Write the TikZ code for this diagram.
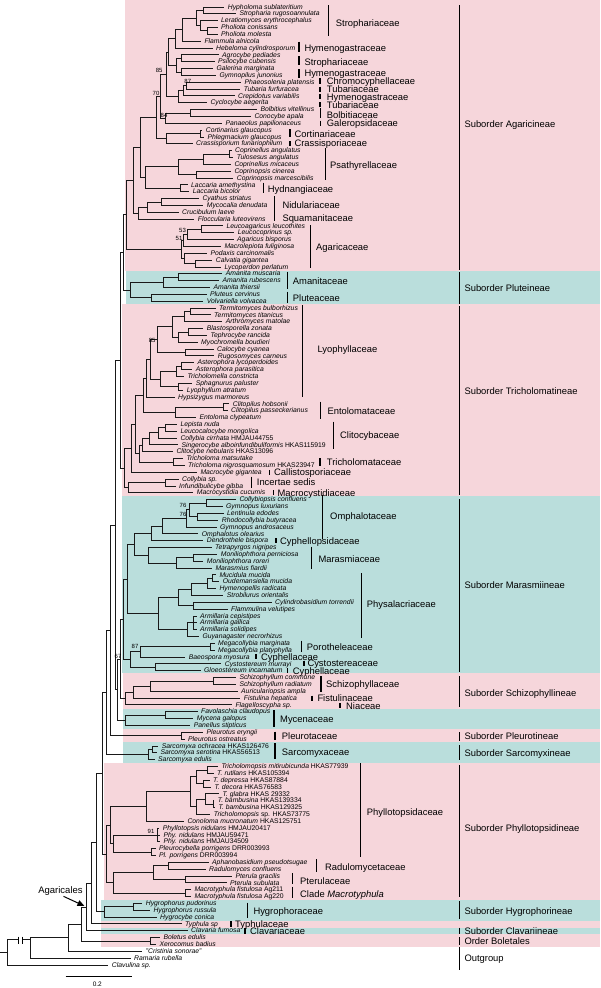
\documentclass[tikz,border=0pt]{standalone}
\usepackage{fontspec}
\setmainfont{Liberation Sans}
\usetikzlibrary{arrows.meta}
\definecolor{bgpink}{HTML}{F6D6DB}
\definecolor{bgcyan}{HTML}{BADEDC}
\newcommand\rw[1]{{7+(#1-1)*6.843}}
\newcommand\lf[3]{\node[leaf] (l#1) at ({#2-3.5},\rw{#1}) {#3};}
\newcommand\cn[3]{\coordinate (#1) at (#2,\rw{#3});}
\newcommand\br[2]{\draw[tree] (#1) |- (#2);}
\newcommand\vc[1]{\textup{#1}}
\newcommand\famb[7]{\draw[brk] (#2,#3) -- (#2,#4); \node[famlab] (#1) at (#5,#6) {#7};}
\newcommand\ftk[5]{\draw[brk] (#2,{#4-2.6}) -- (#2,{#4+2.6}); \node[famlab] (#1) at (#3,#4) {#5};}
\newcommand\subo[5]{\draw[subbrk] (459.3,#2) -- (459.3,#3); \node[famlab] (#1) at (464.3,#4) {#5};}
\tikzset{
 tree/.style={line width=1pt, draw=black!90},
 leaf/.style={anchor=west, inner xsep=3.5pt, inner ysep=0pt, text height=4.2pt, text depth=0pt, font=\fontsize{6.8}{7}\selectfont\itshape},
 famlab/.style={anchor=west, inner sep=0pt, text height=6.7pt, text depth=0pt, font=\fontsize{9.4}{10}\selectfont},
 brk/.style={line width=1.2pt},
 subbrk/.style={line width=1pt},
 supp/.style={font=\fontsize{6}{6}\selectfont, inner sep=0pt},
}
\begin{document}
\begin{tikzpicture}[x=1pt,y=-1pt]
\useasboundingbox (0,0) rectangle (600,988);
% background bands
\fill[bgpink] (125,0) rectangle (600,270.7);
\fill[bgcyan] (126,270.7) rectangle (600,304.3);
\fill[bgpink] (121.7,304.3) rectangle (600,495.5);
\fill[bgcyan] (121.7,495.5) rectangle (600,673);
\fill[bgpink] (122.7,673) rectangle (600,709.3);
\fill[bgcyan] (122.7,709.3) rectangle (600,729.2);
\fill[bgpink] (122.7,729.2) rectangle (600,742.3);
\fill[bgcyan] (122.7,742.3) rectangle (600,763);
\fill[bgpink] (104,763) rectangle (600,900);
\fill[bgcyan] (100.7,900) rectangle (600,921);
\fill[bgpink] (100.7,921) rectangle (600,927.7);
\fill[bgcyan] (100.7,927.7) rectangle (600,934.3);
\fill[bgpink] (100.7,934.3) rectangle (600,947.3);
% leaves
\lf{1}{227.7}{Hypholoma sublateritium}
\lf{2}{239.3}{Stropharia rugosoannulata}
\lf{3}{221}{Leratiomyces erythrocephalus}
\lf{4}{221}{Pholiota conissans}
\lf{5}{221}{Pholiota molesta}
\lf{6}{204.3}{Flammula alnicola}
\lf{7}{216}{Hebeloma cylindrosporum}
\lf{8}{222}{Agrocybe pediades}
\lf{9}{218}{Psilocybe cubensis}
\lf{10}{216.3}{Galerina marginata}
\lf{11}{219.3}{Gymnopilus junonius}
\lf{12}{244.3}{Phaeosolenia platensis}
\lf{13}{243.7}{Tubaria furfuracea}
\lf{14}{238}{Crepidotus variabilis}
\lf{15}{210.3}{Cyclocybe aegerita}
\lf{16}{260.3}{Bolbitius vitellinus}
\lf{17}{254.3}{Conocybe apala}
\lf{18}{225.3}{Panaeolus papilionaceus}
\lf{19}{205.7}{Cortinarius glaucopus}
\lf{20}{207.3}{Phlegmacium glaucopus}
\lf{21}{196}{Crassisporium funariophilum}
\lf{22}{235}{Coprinellus angulatus}
\lf{23}{236.7}{Tulosesus angulatus}
\lf{24}{234.3}{Coprinellus micaceus}
\lf{25}{234.3}{Coprinopsis cinerea}
\lf{26}{236.7}{Coprinopsis marcescibilis}
\lf{27}{191}{Laccaria amethystina}
\lf{28}{192.7}{Laccaria bicolor}
\lf{29}{202.3}{Cyathus striatus}
\lf{30}{206.7}{Mycocalia denudata}
\lf{31}{182}{Crucibulum laeve}
\lf{32}{197.7}{Floccularia luteovirens}
\lf{33}{226.3}{Leucoagaricus leucothites}
\lf{34}{237.7}{Leucocoprinus sp.}
\lf{35}{237}{Agaricus bisporus}
\lf{36}{224.3}{Macrolepiota fuliginosa}
\lf{37}{210.3}{Podaxis carcinomalis}
\lf{38}{215.7}{Calvatia gigantea}
\lf{39}{224.3}{Lycoperdon perlatum}
\lf{40}{225.7}{Amanita muscaria}
\lf{41}{222.3}{Amanita rubescens}
\lf{42}{213.3}{Amanita thiersii}
\lf{43}{210}{Pluteus cervinus}
\lf{44}{206.7}{Volvariella volvacea}
\lf{45}{219}{Termitomyces bulborhizus}
\lf{46}{214}{Termitomyces titanicus}
\lf{47}{225.7}{Arthromyces matolae}
\lf{48}{206.7}{Blastosporella zonata}
\lf{49}{210.3}{Tephrocybe rancida}
\lf{50}{201}{Myochromella boudieri}
\lf{51}{217}{Calocybe cyanea}
\lf{52}{217.7}{Rugosomyces carneus}
\lf{53}{197.3}{Asterophora lycoperdoides}
\lf{54}{195.7}{Asterophora parasitica}
\lf{55}{187.3}{Tricholomella constricta}
\lf{56}{195.7}{Sphagnurus paluster}
\lf{57}{186.7}{Lyophyllum atratum}
\lf{58}{178}{Hypsizygus marmoreus}
\lf{59}{232.7}{Clitopilus hobsonii}
\lf{60}{231}{Clitopilus passeckerianus}
\lf{61}{199.3}{Entoloma clypeatum}
\lf{62}{180.3}{Lepista nuda}
\lf{63}{180.3}{Leucocalocybe mongolica}
\lf{64}{180.3}{Collybia cirrhata \vc{HMJAU44755}}
\lf{65}{181.3}{Singerocybe alboinfundibuliformis \vc{HKAS115919}}
\lf{66}{176.3}{Clitocybe nebularis \vc{HKAS13096}}
\lf{67}{186.3}{Tricholoma matsutake}
\lf{68}{188}{Tricholoma nigrosquamosum \vc{HKAS23947}}
\lf{69}{200.3}{Macrocybe gigantea}
\lf{70}{182}{Collybia sp.}
\lf{71}{179}{Infundibulicybe gibba}
\lf{72}{196.7}{Macrocystidia cucumis}
\lf{73}{239.3}{Collybiopsis confluens}
\lf{74}{226}{Gymnopus luxurians}
\lf{75}{227}{Lentinula edodes}
\lf{76}{221.7}{Rhodocollybia butyracea}
\lf{77}{220}{Gymnopus androsaceus}
\lf{78}{201.7}{Omphalotus olearius}
\lf{79}{206.7}{Dendrothele bispora}
\lf{80}{215}{Tetrapyrgos nigripes}
\lf{81}{220.7}{Moniliophthora perniciosa}
\lf{82}{206.7}{Moniliophthora roreri}
\lf{83}{215.3}{Marasmius fiardii}
\lf{84}{219.3}{Mucidula mucida}
\lf{85}{222.7}{Oudemansiella mucida}
\lf{86}{219.3}{Hymenopellis radicata}
\lf{87}{226.7}{Strobilurus orientalis}
\lf{88}{275}{Cylindrobasidium torrendii}
\lf{89}{231}{Flammulina velutipes}
\lf{90}{200}{Armillaria cepistipes}
\lf{91}{200}{Armillaria gallica}
\lf{92}{200}{Armillaria solidipes}
\lf{93}{202.3}{Guyanagaster necrorhizus}
\lf{94}{218}{Megacollybia marginata}
\lf{95}{218}{Megacollybia platyphylla}
\lf{96}{188.7}{Baeospora myosura}
\lf{97}{224.7}{Cystostereum murrayi}
\lf{98}{204}{Gloeostereum incarnatum}
\lf{99}{239.3}{Schizophyllum commune}
\lf{100}{239.3}{Schizophyllum radiatum}
\lf{101}{241}{Auriculariopsis ampla}
\lf{102}{243.7}{Fistulina hepatica}
\lf{103}{235.3}{Flagelloscypha sp.}
\lf{104}{201}{Favolaschia claudopus}
\lf{105}{196.7}{Mycena galopus}
\lf{106}{193.7}{Panellus stipticus}
\lf{107}{206.3}{Pleurotus eryngii}
\lf{108}{188}{Pleurotus ostreatus}
\lf{109}{161.7}{Sarcomyxa ochracea \vc{HKAS126476}}
\lf{110}{160.3}{Sarcomyxa serotina \vc{HKAS56513}}
\lf{111}{158}{Sarcomyxa edulis}
\lf{112}{221.3}{Tricholomopsis mitirubicunda \vc{HKAS77939}}
\lf{113}{217}{T. rutilans \vc{HKAS105394}}
\lf{114}{213}{T. depressa \vc{HKAS87884}}
\lf{115}{214.3}{T. decora \vc{HKAS76583}}
\lf{116}{222.3}{T. glabra \vc{HKAS 29332}}
\lf{117}{217.7}{T. bambusina \vc{HKAS139334}}
\lf{118}{218.3}{T. bambusina \vc{HKAS129325}}
\lf{119}{213.7}{Tricholomopsis \vc{sp. HKAS73775}}
\lf{120}{187.3}{Conoloma mucronatum \vc{HKAS125751}}
\lf{121}{162.7}{Phyllotopsis nidulans \vc{HMJAU20417}}
\lf{122}{163.3}{Phy. nidulans \vc{HMJAU59471}}
\lf{123}{163.3}{Phy. nidulans \vc{HMJAU34509}}
\lf{124}{159}{Pleurocybella porrigens \vc{DRR003993}}
\lf{125}{159}{Pl. porrigens \vc{DRR003994}}
\lf{126}{212}{Aphanobasidium pseudotsugae}
\lf{127}{209}{Radulomyces confluens}
\lf{128}{235.3}{Pterula gracilis}
\lf{129}{230}{Pterula subulata}
\lf{130}{194.3}{Macrotyphula fistulosa \vc{Ag211}}
\lf{131}{194.3}{Macrotyphula fistulosa \vc{Ag220}}
\lf{132}{145.7}{Hygrophorus pudorinus}
\lf{133}{153.3}{Hygrophorus russula}
\lf{134}{160}{Hygrocybe conica}
\lf{135}{185}{Typhula sp}
\lf{136}{191}{Clavaria fumosa}
\lf{137}{163.3}{Boletus edulis}
\lf{138}{159.3}{Xerocomus badius}
\lf{139}{145.7}{"Cristinia sonorae"}
\lf{140}{134}{Ramaria rubella}
\lf{141}{111.7}{Clavulina sp.}
% internal nodes: Agaricineae
\cn{a12}{203.3}{1.5}
\cn{a45}{207}{4.5}
\cn{a345}{200}{3.75}
\cn{a1t5}{196.7}{2.625}
\cn{a1t6}{182}{4.3125}
\cn{a1t7}{175}{5.656}
\cn{a89}{181.7}{8.5}
\cn{a1011}{181.7}{10.5}
\cn{a8t11}{176}{9.5}
\cn{a1t11}{168}{7.578}
\cn{a1213}{186}{12.5}
\cn{a12t14}{183}{13.25}
\cn{a12t15}{178}{14.125}
\cn{a1t15}{166}{10.852}
\cn{a1617}{190}{16.5}
\cn{a16t18}{165}{17.25}
\cn{a1t18}{160}{14.05}
\cn{a1920}{200}{19.5}
\cn{a19t21}{166.7}{20.25}
\cn{a1t21}{156}{17.15}
\cn{a2223}{229}{22.5}
\cn{a22t24}{203}{23.25}
\cn{a2526}{196.7}{25.5}
\cn{a22t26}{178}{24.375}
\cn{a2728}{180}{27.5}
\cn{a22t28}{145}{25.94}
\cn{a1t28}{140}{21.54}
\cn{a2930}{161.7}{29.5}
\cn{a29t31}{147.7}{30.25}
\cn{a29t32}{138.3}{31.125}
\cn{a1t32}{133}{26.33}
\cn{a3334}{201.7}{33.5}
\cn{a33t35}{187.3}{34.25}
\cn{a33t36}{183}{35.125}
\cn{a3839}{195}{38.5}
\cn{a37t39}{184}{37.75}
\cn{a33t39}{181}{36.44}
\cn{AG}{126}{31.38}
\cn{p4041}{178.3}{40.5}
\cn{p40t42}{163.3}{41.25}
\cn{p4344}{151}{43.5}
\cn{PL}{130.7}{42.375}
\cn{AP}{123}{36.88}
% Tricholomatineae
\cn{t4546}{190.7}{45.5}
\cn{t45t47}{184}{46.25}
\cn{t4849}{188}{48.5}
\cn{t48t50}{178}{49.25}
\cn{t45t50}{172}{47.75}
\cn{t5152}{185}{51.5}
\cn{t45t52}{157}{49.625}
\cn{t5354}{181.7}{53.5}
\cn{t53t55}{176}{54.25}
\cn{t5657}{178}{56.5}
\cn{t53t57}{160}{55.375}
\cn{t45t57}{150}{52.5}
\cn{t45t58}{146.7}{55.25}
\cn{t5960}{223}{59.5}
\cn{t59t61}{175}{60.25}
\cn{t45t61}{143.3}{57.75}
\cn{t6263}{165}{62.5}
\cn{t62t64}{158}{63.25}
\cn{t62t65}{149.3}{64.125}
\cn{t62t66}{142.7}{65.06}
\cn{t6768}{173.3}{67.5}
\cn{t62t68}{139}{66.28}
\cn{t45t68}{135}{62.02}
\cn{t45t69}{131.7}{65.51}
\cn{t7071}{165}{70.5}
\cn{t70t72}{128.3}{71.25}
\cn{TR}{124}{68.38}
\cn{Q}{120}{52.63}
% Marasmiineae etc.
\cn{m7374}{206}{73.5}
\cn{m7576}{197}{75.5}
\cn{m73t76}{189}{74.5}
\cn{m73t77}{186}{75.75}
\cn{m73t78}{162}{76.875}
\cn{m73t79}{151}{77.94}
\cn{m8182}{193.3}{81.5}
\cn{m81t83}{176}{82.25}
\cn{m80t83}{148}{81.125}
\cn{m73t83}{134}{79.53}
\cn{m8485}{212}{84.5}
\cn{m84t86}{207}{85.25}
\cn{m84t87}{191.7}{86.125}
\cn{m8889}{193.3}{88.5}
\cn{m84t89}{178}{87.31}
\cn{m90t92}{193}{91}
\cn{m90t93}{187.3}{92}
\cn{PHYS}{158.3}{89.66}
\cn{MA1}{127.7}{84.6}
\cn{m9495}{210}{94.5}
\cn{m94t96}{140}{95.25}
\cn{m9798}{155}{97.5}
\cn{m94t98}{130}{96.375}
\cn{MA}{123.3}{90.49}
\cn{s99100}{213.3}{99.5}
\cn{s99t101}{150}{100.25}
\cn{s99t102}{133.3}{101.125}
\cn{SC}{125}{102.06}
\cn{MS}{120}{96.28}
\cn{y104105}{165}{104.5}
\cn{MY}{125}{105.25}
\cn{M}{117}{100.76}
\cn{R}{115}{76.7}
\cn{PLE}{181.7}{107.5}
\cn{T}{110}{92.1}
\cn{sa109110}{152}{109.5}
\cn{SA}{148}{110.25}
\cn{U}{106.7}{101.18}
% Phyllotopsidineae and base
\cn{h112113}{207.3}{112.5}
\cn{h114115}{203}{114.5}
\cn{h112t115}{196.7}{113.5}
\cn{h117118}{213}{117.5}
\cn{h116t118}{205}{116.75}
\cn{h116t119}{196}{117.875}
\cn{h112t119}{190}{115.69}
\cn{h112t120}{146.7}{117.84}
\cn{h121t123}{157}{122}
\cn{h124125}{151.7}{124.5}
\cn{h121t125}{113.3}{123.25}
\cn{h112t125}{110}{120.55}
\cn{h126127}{168.3}{126.5}
\cn{h128129}{185}{128.5}
\cn{h126t129}{153.3}{127.5}
\cn{h130131}{185}{130.5}
\cn{h126t131}{113.3}{129}
\cn{PHY}{106}{124.78}
\cn{K1}{102.7}{112.98}
\cn{g132133}{133.3}{132.5}
\cn{HY}{104}{133.25}
\cn{K2}{96.7}{123.1}
\cn{K3}{91.7}{129.05}
\cn{K4}{86.7}{132.53}
\cn{BO}{150.7}{137.5}
\cn{K5}{81}{135.01}
\cn{K6}{68.3}{137.0}
\cn{K7}{30}{137.34}
\cn{RT}{7.3}{139.17}
\cn{RT0}{0}{139.17}
% branches
\br{a12}{l1.west}\br{a12}{l2.west}
\br{a45}{l4.west}\br{a45}{l5.west}
\br{a345}{l3.west}\br{a345}{a45}
\br{a1t5}{a12}\br{a1t5}{a345}
\br{a1t6}{a1t5}\br{a1t6}{l6.west}
\br{a1t7}{a1t6}\br{a1t7}{l7.west}
\br{a89}{l8.west}\br{a89}{l9.west}
\br{a1011}{l10.west}\br{a1011}{l11.west}
\br{a8t11}{a89}\br{a8t11}{a1011}
\br{a1t11}{a1t7}\br{a1t11}{a8t11}
\br{a1213}{l12.west}\br{a1213}{l13.west}
\br{a12t14}{a1213}\br{a12t14}{l14.west}
\br{a12t15}{a12t14}\br{a12t15}{l15.west}
\br{a1t15}{a1t11}\br{a1t15}{a12t15}
\br{a1617}{l16.west}\br{a1617}{l17.west}
\br{a16t18}{a1617}\br{a16t18}{l18.west}
\br{a1t18}{a1t15}\br{a1t18}{a16t18}
\br{a1920}{l19.west}\br{a1920}{l20.west}
\br{a19t21}{a1920}\br{a19t21}{l21.west}
\br{a1t21}{a1t18}\br{a1t21}{a19t21}
\br{a2223}{l22.west}\br{a2223}{l23.west}
\br{a22t24}{a2223}\br{a22t24}{l24.west}
\br{a2526}{l25.west}\br{a2526}{l26.west}
\br{a22t26}{a22t24}\br{a22t26}{a2526}
\br{a2728}{l27.west}\br{a2728}{l28.west}
\br{a22t28}{a22t26}\br{a22t28}{a2728}
\br{a1t28}{a1t21}\br{a1t28}{a22t28}
\br{a2930}{l29.west}\br{a2930}{l30.west}
\br{a29t31}{a2930}\br{a29t31}{l31.west}
\br{a29t32}{a29t31}\br{a29t32}{l32.west}
\br{a1t32}{a1t28}\br{a1t32}{a29t32}
\br{a3334}{l33.west}\br{a3334}{l34.west}
\br{a33t35}{a3334}\br{a33t35}{l35.west}
\br{a33t36}{a33t35}\br{a33t36}{l36.west}
\br{a3839}{l38.west}\br{a3839}{l39.west}
\br{a37t39}{l37.west}\br{a37t39}{a3839}
\br{a33t39}{a33t36}\br{a33t39}{a37t39}
\br{AG}{a1t32}\br{AG}{a33t39}
\br{p4041}{l40.west}\br{p4041}{l41.west}
\br{p40t42}{p4041}\br{p40t42}{l42.west}
\br{p4344}{l43.west}\br{p4344}{l44.west}
\br{PL}{p40t42}\br{PL}{p4344}
\br{AP}{AG}\br{AP}{PL}
\br{t4546}{l45.west}\br{t4546}{l46.west}
\br{t45t47}{t4546}\br{t45t47}{l47.west}
\br{t4849}{l48.west}\br{t4849}{l49.west}
\br{t48t50}{t4849}\br{t48t50}{l50.west}
\br{t45t50}{t45t47}\br{t45t50}{t48t50}
\br{t5152}{l51.west}\br{t5152}{l52.west}
\br{t45t52}{t45t50}\br{t45t52}{t5152}
\br{t5354}{l53.west}\br{t5354}{l54.west}
\br{t53t55}{t5354}\br{t53t55}{l55.west}
\br{t5657}{l56.west}\br{t5657}{l57.west}
\br{t53t57}{t53t55}\br{t53t57}{t5657}
\br{t45t57}{t45t52}\br{t45t57}{t53t57}
\br{t45t58}{t45t57}\br{t45t58}{l58.west}
\br{t5960}{l59.west}\br{t5960}{l60.west}
\br{t59t61}{t5960}\br{t59t61}{l61.west}
\br{t45t61}{t45t58}\br{t45t61}{t59t61}
\br{t6263}{l62.west}\br{t6263}{l63.west}
\br{t62t64}{t6263}\br{t62t64}{l64.west}
\br{t62t65}{t62t64}\br{t62t65}{l65.west}
\br{t62t66}{t62t65}\br{t62t66}{l66.west}
\br{t6768}{l67.west}\br{t6768}{l68.west}
\br{t62t68}{t62t66}\br{t62t68}{t6768}
\br{t45t68}{t45t61}\br{t45t68}{t62t68}
\br{t45t69}{t45t68}\br{t45t69}{l69.west}
\br{t7071}{l70.west}\br{t7071}{l71.west}
\br{t70t72}{t7071}\br{t70t72}{l72.west}
\br{TR}{t45t69}\br{TR}{t70t72}
\br{Q}{AP}\br{Q}{TR}
\br{m7374}{l73.west}\br{m7374}{l74.west}
\br{m7576}{l75.west}\br{m7576}{l76.west}
\br{m73t76}{m7374}\br{m73t76}{m7576}
\br{m73t77}{m73t76}\br{m73t77}{l77.west}
\br{m73t78}{m73t77}\br{m73t78}{l78.west}
\br{m73t79}{m73t78}\br{m73t79}{l79.west}
\br{m8182}{l81.west}\br{m8182}{l82.west}
\br{m81t83}{m8182}\br{m81t83}{l83.west}
\br{m80t83}{l80.west}\br{m80t83}{m81t83}
\br{m73t83}{m73t79}\br{m73t83}{m80t83}
\br{m8485}{l84.west}\br{m8485}{l85.west}
\br{m84t86}{m8485}\br{m84t86}{l86.west}
\br{m84t87}{m84t86}\br{m84t87}{l87.west}
\br{m8889}{l88.west}\br{m8889}{l89.west}
\br{m84t89}{m84t87}\br{m84t89}{m8889}
\br{m90t92}{l90.west}\br{m90t92}{l91.west}\br{m90t92}{l92.west}
\br{m90t93}{m90t92}\br{m90t93}{l93.west}
\br{PHYS}{m84t89}\br{PHYS}{m90t93}
\br{MA1}{m73t83}\br{MA1}{PHYS}
\br{m9495}{l94.west}\br{m9495}{l95.west}
\br{m94t96}{m9495}\br{m94t96}{l96.west}
\br{m9798}{l97.west}\br{m9798}{l98.west}
\br{m94t98}{m94t96}\br{m94t98}{m9798}
\br{MA}{MA1}\br{MA}{m94t98}
\br{s99100}{l99.west}\br{s99100}{l100.west}
\br{s99t101}{s99100}\br{s99t101}{l101.west}
\br{s99t102}{s99t101}\br{s99t102}{l102.west}
\br{SC}{s99t102}\br{SC}{l103.west}
\br{MS}{MA}\br{MS}{SC}
\br{y104105}{l104.west}\br{y104105}{l105.west}
\br{MY}{y104105}\br{MY}{l106.west}
\br{M}{MS}\br{M}{MY}
\br{R}{Q}\br{R}{M}
\br{PLE}{l107.west}\br{PLE}{l108.west}
\br{T}{R}\br{T}{PLE}
\br{sa109110}{l109.west}\br{sa109110}{l110.west}
\br{SA}{sa109110}\br{SA}{l111.west}
\br{U}{T}\br{U}{SA}
\br{h112113}{l112.west}\br{h112113}{l113.west}
\br{h114115}{l114.west}\br{h114115}{l115.west}
\br{h112t115}{h112113}\br{h112t115}{h114115}
\br{h117118}{l117.west}\br{h117118}{l118.west}
\br{h116t118}{l116.west}\br{h116t118}{h117118}
\br{h116t119}{h116t118}\br{h116t119}{l119.west}
\br{h112t119}{h112t115}\br{h112t119}{h116t119}
\br{h112t120}{h112t119}\br{h112t120}{l120.west}
\br{h121t123}{l121.west}\br{h121t123}{l122.west}\br{h121t123}{l123.west}
\br{h124125}{l124.west}\br{h124125}{l125.west}
\br{h121t125}{h121t123}\br{h121t125}{h124125}
\br{h112t125}{h112t120}\br{h112t125}{h121t125}
\br{h126127}{l126.west}\br{h126127}{l127.west}
\br{h128129}{l128.west}\br{h128129}{l129.west}
\br{h126t129}{h126127}\br{h126t129}{h128129}
\br{h130131}{l130.west}\br{h130131}{l131.west}
\br{h126t131}{h126t129}\br{h126t131}{h130131}
\br{PHY}{h112t125}\br{PHY}{h126t131}
\br{K1}{U}\br{K1}{PHY}
\br{g132133}{l132.west}\br{g132133}{l133.west}
\br{HY}{g132133}\br{HY}{l134.west}
\br{K2}{K1}\br{K2}{HY}
\br{K3}{K2}\br{K3}{l135.west}
\br{K4}{K3}\br{K4}{l136.west}
\br{BO}{l137.west}\br{BO}{l138.west}
\br{K5}{K4}\br{K5}{BO}
\br{K6}{K5}\br{K6}{l139.west}
\br{K7}{K6}\br{K7}{l140.west}
\br{RT}{K7}\br{RT}{l141.west}
\draw[tree] (RT0) -- (RT);
% break mark on the root branch
\fill[white] (18.3,935.5) rectangle (22.7,944.5);
\draw[line width=0.9pt] (18.3,936.5) -- (18.3,943.5) (22.7,936.5) -- (22.7,943.5);
% support values
\node[supp] (b1) at (159.2,70) {85};
\node[supp] (b2) at (156,93.3) {70};
\node[supp] (b3) at (187.8,81) {87};
\node[supp] (b4) at (164,115) {84};
\node[supp] (b5) at (182.5,230) {53};
\node[supp] (b6) at (179,238.3) {51};
\node[supp] (b7) at (152.2,340) {85};
\node[supp] (b8) at (183,505) {76};
\node[supp] (b9) at (183,514) {76};
\node[supp] (b10) at (135,646.7) {87};
\node[supp] (b11) at (118,656) {67};
\node[supp] (b12) at (151,831.7) {91};
% family labels
\famb{f1}{328.3}{5}{35.7}{335.7}{22.7}{Strophariaceae}
\famb{f2}{299}{41.7}{52.3}{304.3}{48.3}{Hymenogastraceae}
\famb{f3}{299}{56}{65}{304.3}{61.7}{Strophariaceae}
\famb{f4}{299}{69}{77.7}{304.3}{73.3}{Hymenogastraceae}
\ftk{f5}{320}{326.7}{81}{Chromocyphellaceae}
\ftk{f6}{320}{326.7}{89.3}{Tubariaceae}
\ftk{f7}{320}{326.7}{96.7}{Hymenogastraceae}
\ftk{f8}{320}{326.7}{104.7}{Tubariaceae}
\famb{f9}{320.7}{108.3}{118.3}{326.7}{115}{Bolbitiaceae}
\ftk{f10}{320.7}{326.7}{123.3}{Galeropsidaceae}
\famb{f11}{290}{129.3}{137.3}{294.3}{133.7}{Cortinariaceae}
\ftk{f12}{290}{294.3}{143.6}{Crassisporiaceae}
\famb{f13}{325.3}{148.3}{180}{330}{165}{Psathyrellaceae}
\famb{f14}{263.3}{182.7}{192.7}{267.7}{188.8}{Hydnangiaceae}
\famb{f15}{274.3}{196}{216}{282.3}{205}{Nidulariaceae}
\ftk{f16}{274.3}{282.3}{218}{Squamanitaceae}
\famb{f17}{310.7}{225}{268.3}{316}{247}{Agaricaceae}
\famb{f18}{287.7}{271.7}{289}{292.7}{280.7}{Amanitaceae}
\famb{f19}{287.7}{291.7}{303.3}{292.7}{298}{Pluteaceae}
\famb{f20}{302.3}{305}{397.3}{317.3}{349.3}{Lyophyllaceae}
\famb{f21}{320.7}{401.7}{419.3}{327.3}{410.7}{Entolomataceae}
\famb{f22}{333.3}{421.7}{449.3}{340}{435}{Clitocybaceae}
\famb{f23}{320}{458.3}{466}{326.7}{462.3}{Tricholomataceae}
\ftk{f24}{269.3}{274}{472.5}{Callistosporiaceae}
\famb{f25}{251.7}{476.7}{488.3}{256.7}{481.8}{Incertae sedis}
\ftk{f26}{273.3}{277.3}{492.7}{Macrocystidiaceae}
\famb{f27}{322.7}{495}{539.3}{330}{516}{Omphalotaceae}
\ftk{f28}{276}{280}{540.7}{Cyphellopsidaceae}
\famb{f29}{311.7}{546.7}{569.3}{318.3}{559}{Marasmiaceae}
\famb{f30}{361.7}{573.3}{638.3}{366.7}{604}{Physalacriaceae}
\famb{f31}{301.7}{640.7}{652.3}{306.7}{646.7}{Porotheleaceae}
\ftk{f32}{256}{261}{656.8}{Cyphellaceae}
\ftk{f33}{304}{307.3}{663.3}{Cystostereaceae}
\ftk{f34}{287.7}{292.7}{670.7}{Cyphellaceae}
\famb{f35}{321}{676}{691.7}{326}{684}{Schizophyllaceae}
\ftk{f36}{312}{317.3}{698.3}{Fistulinaceae}
\ftk{f37}{340}{346}{705.8}{Niaceae}
\famb{f38}{274}{710}{726.7}{280}{719.3}{Mycenaceae}
\famb{f39}{275}{731.7}{740}{281.7}{736}{Pleurotaceae}
\famb{f40}{275}{743.3}{759.3}{281.7}{752}{Sarcomyxaceae}
\famb{f41}{360.7}{763.3}{856.7}{366.7}{812.3}{Phyllotopsidaceae}
\famb{f42}{316.7}{859.3}{871.7}{325}{866.7}{Radulomycetaceae}
\famb{f43}{292.7}{873.3}{884.3}{300}{880.7}{Pterulaceae}
\famb{f44}{292.7}{886.7}{898.3}{300}{894}{Clade \textit{Macrotyphula}}
\famb{f45}{247.3}{902.7}{918.3}{253.3}{911}{Hygrophoraceae}
\ftk{f46}{231}{235}{924}{Typhulaceae}
\ftk{f47}{245}{250}{931}{Clavariaceae}
% suborders
\subo{s1}{5}{270}{123.7}{Suborder Agaricineae}
\subo{s2}{272}{304}{288.3}{Suborder Pluteineae}
\subo{s3}{306}{494.7}{390.7}{Suborder Tricholomatineae}
\subo{s4}{499}{671.7}{585}{Suborder Marasmiineae}
\subo{s5}{676}{707.3}{692.7}{Suborder Schizophyllineae}
\subo{s6}{732.3}{740.7}{736}{Suborder Pleurotineae}
\subo{s7}{745}{760}{752.7}{Suborder Sarcomyxineae}
\subo{s8}{765}{897.3}{828.3}{Suborder Phyllotopsidineae}
\subo{s9}{901}{919}{911}{Suborder Hygrophorineae}
\subo{s10}{927.7}{934.3}{931}{Suborder Clavariineae}
\subo{s11}{937.3}{945}{941}{Order Boletales}
\subo{s12}{947.3}{970}{958.3}{Outgroup}
% Agaricales arrow
\node[font=\fontsize{9.5}{10}\selectfont, inner sep=0pt] (agl) at (60.5,890.7) {Agaricales};
\draw[line width=1pt, -{Triangle[length=7pt,width=6pt]}, shorten >=2.5pt] ([xshift=3pt,yshift=-1pt]agl.south) -- (K4);
% scale bar
\coordinate (sb1) at (65.7,976);
\coordinate (sb2) at (131.7,976);
\draw[line width=1pt] (sb1) -- (sb2);
\node[font=\fontsize{6.5}{7}\selectfont, inner sep=0pt] (sbl) at (97.3,984.5) {0.2};
\end{tikzpicture}
\end{document}
